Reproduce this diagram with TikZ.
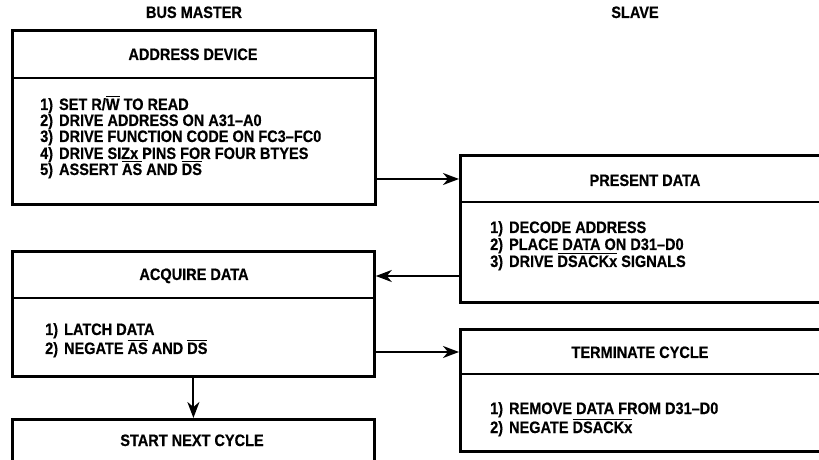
\documentclass[tikz,border=0pt]{standalone}
\usepackage{fontspec}
\setmainfont{Liberation Sans}[FakeStretch=0.88, BoldFeatures={FakeBold=0.5}]
\usetikzlibrary{arrows.meta}
\newcommand\ovl[1]{\leavevmode\vbox{\hrule height 1.2bp\kern1.3bp\hbox{#1}}}
\newcommand\nm[1]{#1)\hspace{6bp}}
\begin{document}
\begin{tikzpicture}[x=1bp,y=-1bp,
  every node/.style={font=\fontsize{16.5bp}{18bp}\selectfont\bfseries, inner sep=0pt},
  box/.style={draw, line width=2.8bp, rectangle, anchor=north west},
  div/.style={line width=2.2bp},
  arr/.style={line width=2bp, -{Stealth[length=16bp,width=12bp,inset=5bp]}},
  txt/.style={anchor=base west},
  hd/.style={anchor=base}]
\useasboundingbox (0,0) rectangle (819,460);
\clip (0,0) rectangle (819,460);
% column titles
\node[hd] (bm) at (194,18) {BUS MASTER};
\node[hd] (sl) at (635,18) {SLAVE};
% boxes
\node[box, minimum width=363bp, minimum height=174bp] (addr) at (11,29) {};
\node[box, minimum width=400bp, minimum height=147bp] (pres) at (459,154) {};
\node[box, minimum width=362bp, minimum height=125bp] (acq) at (11,250) {};
\node[box, minimum width=400bp, minimum height=122bp] (term) at (459,328) {};
\node[box, minimum width=362bp, minimum height=80bp] (start) at (11,418) {};
% dividers
\draw[div] ([yshift=-49bp]addr.north west) -- ([yshift=-49bp]addr.north east);
\draw[div] ([yshift=-48bp]pres.north west) -- ([yshift=-48bp]pres.north east);
\draw[div] ([yshift=-48bp]acq.north west) -- ([yshift=-48bp]acq.north east);
\draw[div] ([yshift=-46bp]term.north west) -- ([yshift=-46bp]term.north east);
% headers
\node[hd] (addrh) at (193,60) {ADDRESS DEVICE};
\node[hd] (presh) at (645,186) {PRESENT DATA};
\node[hd] (acqh) at (194,280) {ACQUIRE DATA};
\node[hd] (termh) at (640,358) {TERMINATE CYCLE};
\node[hd] (starth) at (192,446) {START NEXT CYCLE};
% address device body
\node[txt] (a1) at (40,110) {\nm{1}SET R/\ovl{W} TO READ};
\node[txt] (a2) at (40,126) {\nm{2}DRIVE ADDRESS ON A31–A0};
\node[txt] (a3) at (40,142) {\nm{3}DRIVE FUNCTION CODE ON FC3–FC0};
\node[txt] (a4) at (40,159) {\nm{4}DRIVE SIZx PINS FOR FOUR BTYES};
\node[txt] (a5) at (40,175) {\nm{5}ASSERT \ovl{AS} AND \ovl{DS}};
% present data body
\node[txt] (p1) at (490,233) {\nm{1}DECODE ADDRESS};
\node[txt] (p2) at (490,250) {\nm{2}PLACE DATA ON D31–D0};
\node[txt] (p3) at (490,267) {\nm{3}DRIVE \ovl{DSACKx} SIGNALS};
% acquire data body
\node[txt] (q1) at (45,335) {\nm{1}LATCH DATA};
\node[txt] (q2) at (45,354) {\nm{2}NEGATE \ovl{AS} AND \ovl{DS}};
% terminate body
\node[txt] (t1) at (490,414) {\nm{1}REMOVE DATA FROM D31–D0};
\node[txt] (t2) at (490,433) {\nm{2}NEGATE \ovl{DSACKx}};
% connectors
\coordinate (y1) at (0,179);
\coordinate (y2) at (0,276);
\coordinate (y3) at (0,352);
\draw[arr] (addr.east |- y1) -- (pres.west |- y1);
\draw[arr] (pres.west |- y2) -- (acq.east |- y2);
\draw[arr] (acq.east |- y3) -- (term.west |- y3);
\draw[arr] (acq.south) -- (start.north);
\end{tikzpicture}
\end{document}
